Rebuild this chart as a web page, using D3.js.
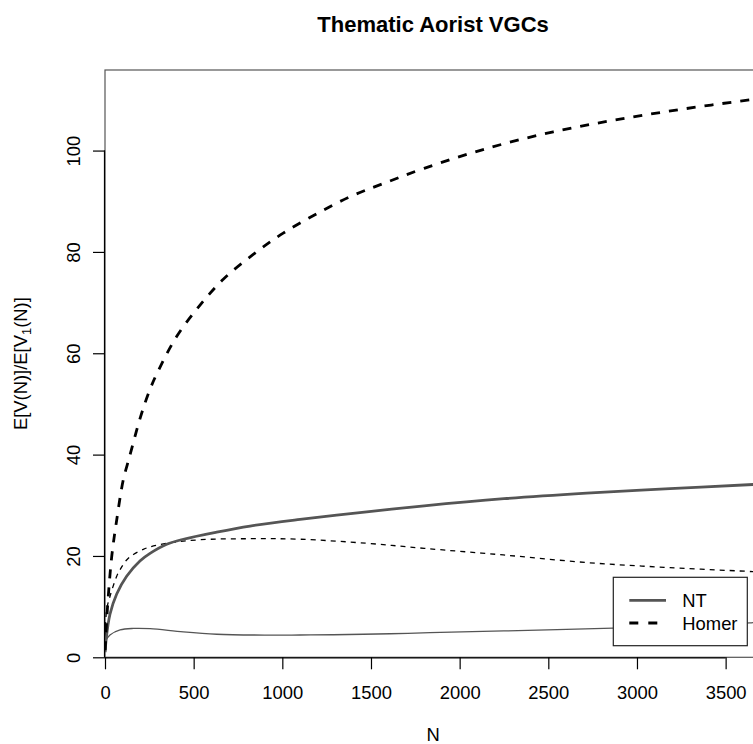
<!DOCTYPE html>
<html>
<head>
<meta charset="utf-8">
<script src="https://cdn.jsdelivr.net/npm/d3@7"></script>
<style>
html,body{margin:0;padding:0;background:#fff;}
svg{display:block;font-family:"Liberation Sans",Arial,sans-serif;}
</style>
</head>
<body>
<svg id="chart" width="753" height="744"></svg>
<script>
// ---- data ----
const xTicks = [0, 500, 1000, 1500, 2000, 2500, 3000, 3500];
const yTicks = [0, 20, 40, 60, 80, 100];

const homerN = [1, 13, 38, 66, 103, 137, 200, 254, 301, 404, 536, 667, 836, 1005, 1193, 1382, 1570, 1800, 2152, 2528, 2904, 3280, 3656, 3700];
const homerE = [1.4, 9.3, 19.9, 27.1, 35.0, 39.4, 47.4, 52.9, 56.6, 63.3, 69.5, 74.6, 79.5, 83.7, 87.5, 90.9, 93.5, 96.5, 100.4, 103.7, 106.2, 108.3, 110.1, 110.3];

const ntN = [1, 6, 28, 66, 122, 197, 254, 348, 442, 630, 818, 1100, 1476, 1800, 2250, 2716, 3186, 3656, 3700];
const ntE = [1.0, 3.4, 8.5, 12.5, 16.0, 19.0, 20.5, 22.3, 23.3, 24.7, 25.9, 27.2, 28.7, 29.9, 31.3, 32.4, 33.3, 34.1, 34.2];

const homer2N = [1, 9, 28, 66, 85, 122, 160, 216, 254, 348, 536, 818, 1100, 1476, 1800, 2246, 2716, 3186, 3656, 3700];
const homer2E = [2.0, 9.3, 12.0, 16.0, 17.3, 19.2, 20.3, 21.3, 21.8, 22.5, 23.2, 23.4, 23.3, 22.5, 21.5, 20.2, 18.7, 17.7, 16.9, 16.8];

const nt2N = [0, 28, 85, 160, 254, 442, 630, 912, 1100, 1288, 1607, 1833, 2250, 2866, 3250, 3637, 3700];
const nt2E = [3.1, 4.4, 5.4, 5.7, 5.65, 5.0, 4.55, 4.38, 4.4, 4.45, 4.65, 4.85, 5.2, 5.75, 6.2, 6.8, 6.9];

const legendLabels = ["NT", "Homer"];

// ---- layout ----
const svg = d3.select("#chart");
const pL = 105, pR = 761.1, pT = 70, pB = 657.3;
const x = d3.scaleLinear().domain([0, 3700]).range([pL, pR]);
const y = d3.scaleLinear().domain([0, 115.9]).range([pB, pT]);
const FS = 18.4;

svg.append("defs").append("clipPath").attr("id", "clip")
  .append("rect").attr("x", pL).attr("y", pT).attr("width", pR - pL).attr("height", pB - pT);

// box
svg.append("rect").attr("x", pL).attr("y", pT).attr("width", pR - pL).attr("height", pB - pT)
  .attr("fill", "none").attr("stroke", "#555").attr("stroke-width", 1.2);

const zip = (a, b) => a.map((v, i) => [v, b[i]]);
const line = d3.line().x(d => x(d[0])).y(d => y(d[1])).curve(d3.curveCatmullRom.alpha(0.5));
const g = svg.append("g").attr("clip-path", "url(#clip)");

g.append("path").datum(zip(nt2N, nt2E)).attr("d", line)
  .attr("fill", "none").attr("stroke", "#555").attr("stroke-width", 1.3);
g.append("path").datum(zip(homer2N, homer2E)).attr("d", line)
  .attr("fill", "none").attr("stroke", "#000").attr("stroke-width", 1.3).attr("stroke-dasharray", "5,5");
g.append("path").datum(zip(ntN, ntE)).attr("d", line)
  .attr("fill", "none").attr("stroke", "#555").attr("stroke-width", 2.8);
g.append("path").datum(zip(homerN, homerE)).attr("d", line)
  .attr("fill", "none").attr("stroke", "#000").attr("stroke-width", 2.8).attr("stroke-dasharray", "9,9");

// axes
const xAxis = d3.axisBottom(x).tickValues(xTicks).tickSize(12).tickFormat(d3.format("d"));
const xg = svg.append("g").attr("transform", `translate(0,${pB})`).call(xAxis);
xg.attr("font-family", null).attr("font-size", null);
xg.select(".domain").attr("d", `M${x(0)},0.5H${x(3500)}`).attr("stroke", "#000").attr("stroke-width", 1.2);
xg.selectAll(".tick line").attr("stroke", "#000").attr("stroke-width", 1.2);
xg.selectAll("text").attr("font-size", FS).attr("fill", "#000").attr("dy", null).attr("y", 41.5);

const yAxis = d3.axisLeft(y).tickValues(yTicks).tickSize(12).tickFormat(d3.format("d"));
const yg = svg.append("g").attr("transform", `translate(${pL},0)`).call(yAxis);
yg.attr("font-family", null).attr("font-size", null);
yg.select(".domain").attr("d", `M-0.5,${y(0)}V${y(100)}`).attr("stroke", "#000").attr("stroke-width", 1.2);
yg.selectAll(".tick line").attr("stroke", "#000").attr("stroke-width", 1.2);
yg.selectAll("text").attr("font-size", FS).attr("fill", "#000")
  .attr("x", null).attr("dy", null).attr("text-anchor", "middle")
  .attr("transform", "translate(-25,0) rotate(-90)");

// title
svg.append("text").attr("x", (pL + pR) / 2).attr("y", 32).attr("text-anchor", "middle")
  .attr("font-size", 22).attr("font-weight", "bold").text("Thematic Aorist VGCs");

// x label
svg.append("text").attr("x", (pL + pR) / 2).attr("y", 741).attr("text-anchor", "middle")
  .attr("font-size", FS).text("N");

// y label
const yl = svg.append("text").attr("transform", `translate(27,${(pT + pB) / 2}) rotate(-90)`)
  .attr("text-anchor", "middle").attr("font-size", FS);
yl.append("tspan").text("E[V(N)]/E[V");
yl.append("tspan").attr("font-size", FS * 0.7).attr("dy", 4).text("1");
yl.append("tspan").attr("dy", -4).text("(N)]");

// legend
const lg = svg.append("g");
lg.append("rect").attr("x", 613.3).attr("y", 577.3).attr("width", 134).attr("height", 68.4)
  .attr("fill", "#fff").attr("stroke", "#222").attr("stroke-width", 1.2);
const rows = [600.3, 623];
const styles = [{c: "#555", d: null}, {c: "#000", d: "9,10"}];
legendLabels.forEach((lab, i) => {
  lg.append("line").attr("x1", 629.3).attr("x2", 666).attr("y1", rows[i]).attr("y2", rows[i])
    .attr("stroke", styles[i].c).attr("stroke-width", 2.8).attr("stroke-dasharray", styles[i].d);
  lg.append("text").attr("x", 682.3).attr("y", rows[i] + 6.6).attr("font-size", FS).text(lab);
});
</script>
</body>
</html>
